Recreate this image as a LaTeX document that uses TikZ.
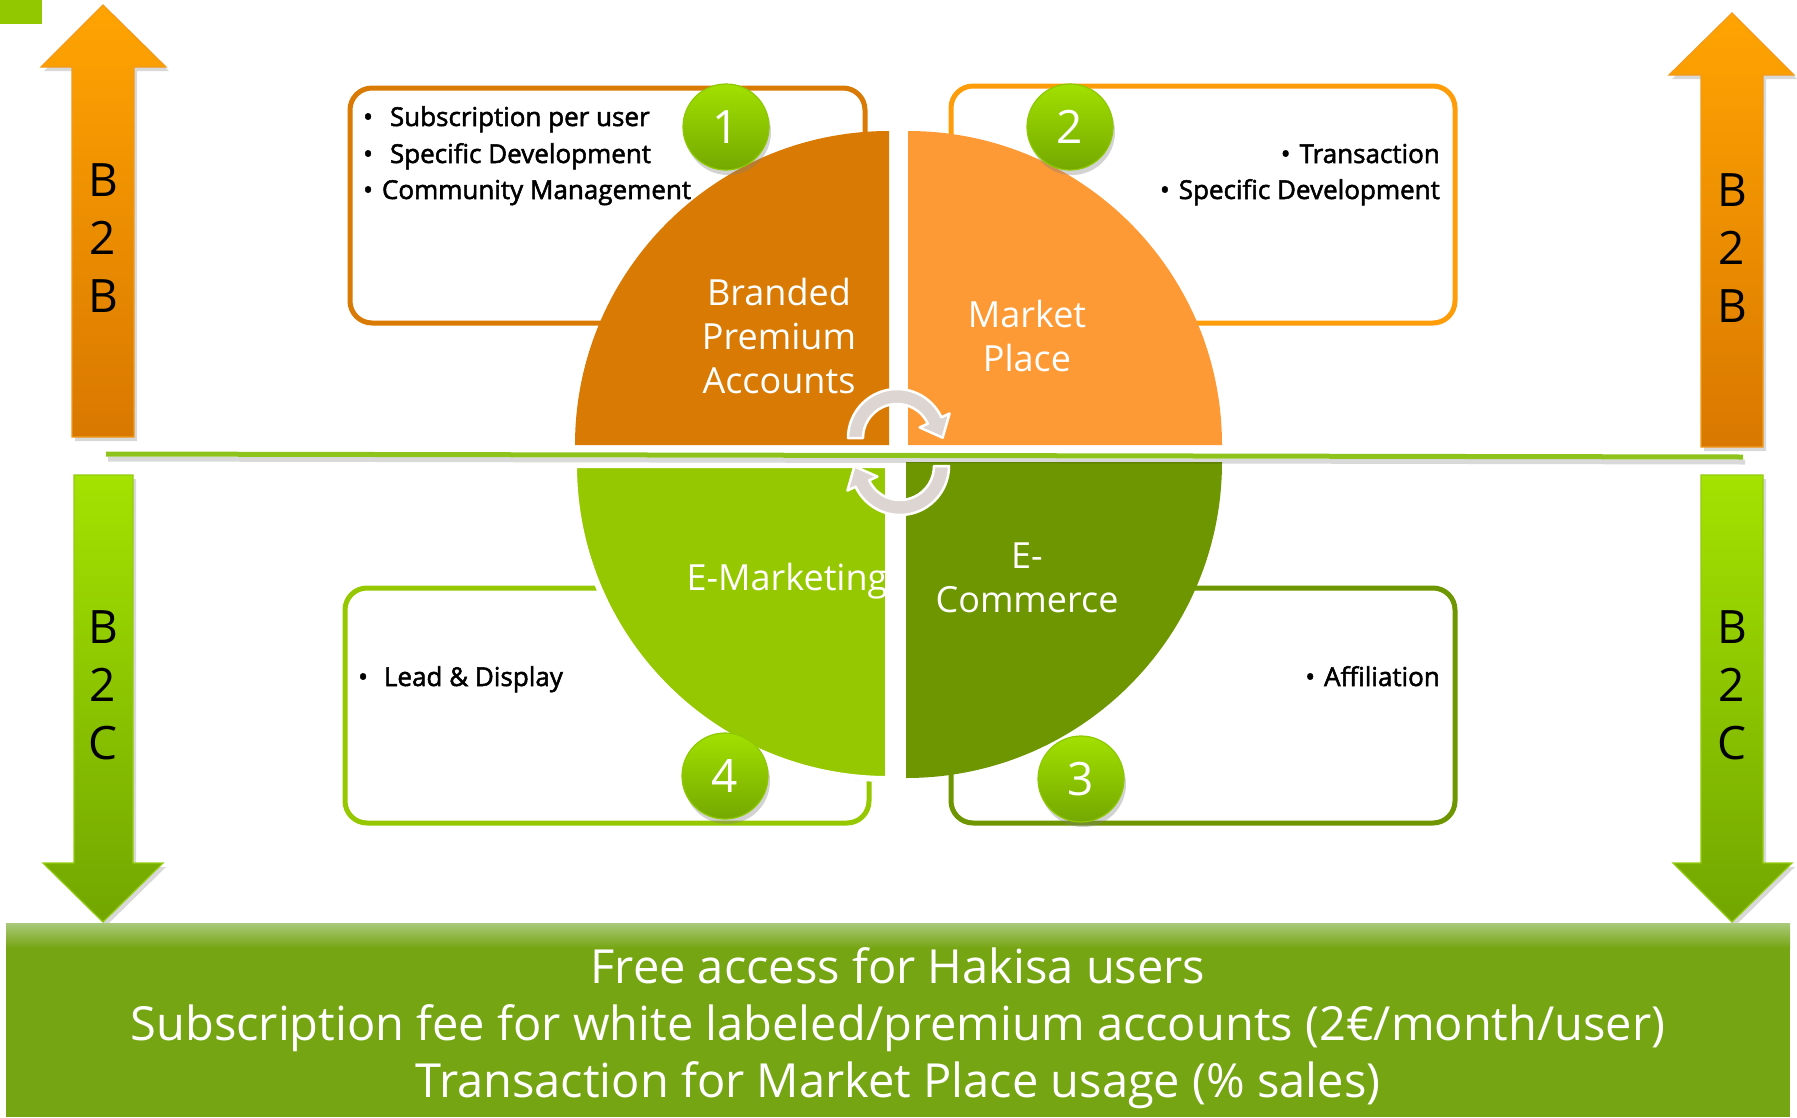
\documentclass[tikz,border=0pt]{standalone}
\usepackage{fontspec}
\setmainfont{Open Sans}
\newfontfamily\semibf{Open Sans}[FakeBold=2]
\usetikzlibrary{shadows,calc}
\definecolor{brandor}{HTML}{D87A03}
\definecolor{mktor}{HTML}{FE9A35}
\definecolor{mktedge}{HTML}{FF9C0A}
\definecolor{emkt}{HTML}{96C800}
\definecolor{ecom}{HTML}{6E9600}
\definecolor{botgreen}{HTML}{76A513}
\definecolor{botlight}{HTML}{A9C97A}
\definecolor{arrOrA}{HTML}{FFA402}
\definecolor{arrOrB}{HTML}{D97800}
\definecolor{arrOrEdge}{HTML}{F29A1C}
\definecolor{arrGrA}{HTML}{A4E200}
\definecolor{arrGrB}{HTML}{72A600}
\definecolor{arrGrEdge}{HTML}{94CC12}
\definecolor{numA}{HTML}{A2E000}
\definecolor{numB}{HTML}{74A800}
\definecolor{numEdge}{HTML}{8DC800}
\definecolor{cycgray}{HTML}{DDD5D2}
\definecolor{lineg}{HTML}{8EC31C}
\definecolor{cornerg}{HTML}{92C800}
\begin{document}
\begin{tikzpicture}[x=1pt,y=-1pt,
  shad/.style={drop shadow={opacity=0.3,shadow xshift=3pt,shadow yshift=-4pt}},
  orarrow/.style={top color=arrOrA,bottom color=arrOrB,draw=arrOrEdge,line width=1.2pt,shad},
  grarrow/.style={top color=arrGrA,bottom color=arrGrB,draw=arrGrEdge,line width=1.2pt,shad},
  sidelbl/.style={font=\fontsize{46}{58}\selectfont,align=center,text=black,inner sep=0pt},
  boxst/.style={rounded corners=22pt,line width=5pt,fill=white},
  bul/.style={font=\semibf\fontsize{26}{30}\selectfont,inner sep=0pt,text=black},
  pietext/.style={font=\fontsize{36}{44}\selectfont,align=center,text=white,inner sep=0pt},
  numc/.style={circle,minimum size=86pt,inner sep=0pt,top color=numA,bottom color=numB,draw=numEdge,line width=1.2pt,text=white,font=\fontsize{46}{50}\selectfont,drop shadow={opacity=0.35,shadow xshift=2pt,shadow yshift=-5pt}},
  cyc/.style={fill=cycgray,draw=white,line width=2.5pt,line join=round},
]
\useasboundingbox (0,0) rectangle (1797,1117);
\fill[white] (0,0) rectangle (1797,1117);
\fill[cornerg] (0,0) rectangle (42,24);

% side arrows
\draw[orarrow] (72,437) -- (72,67) -- (41,67) -- (103,5) -- (166,67) -- (134,67) -- (134,437) -- cycle;
\draw[orarrow] (1701,447) -- (1701,75) -- (1669,75) -- (1732,13) -- (1794,75) -- (1763,75) -- (1763,447) -- cycle;
\draw[grarrow] (74,475) -- (133,475) -- (133,863) -- (163,863) -- (103,922) -- (43,863) -- (74,863) -- cycle;
\draw[grarrow] (1701,475) -- (1763,475) -- (1763,863) -- (1792,863) -- (1732,922) -- (1673,863) -- (1701,863) -- cycle;
\node[sidelbl] (lbb) at (103,238) {B\\2\\B};
\node[sidelbl] (rbb) at (1732,248) {B\\2\\B};
\node[sidelbl] (lbc) at (103,685) {B\\2\\C};
\node[sidelbl] (rbc) at (1732,685) {B\\2\\C};

% boxes
\draw[boxst,draw=brandor] (350,88) rectangle (865,323);
\draw[boxst,draw=mktedge] (951,86) rectangle (1455,323);
\draw[boxst,draw=emkt] (345,588) rectangle (869,823);
\draw[boxst,draw=ecom] (951,588) rectangle (1455,823);

\node[bul,anchor=base west] (t1a) at (363,126) {•\hspace{17pt}Subscription per user};
\node[bul,anchor=base west] (t1b) at (363,163) {•\hspace{17pt}Specific Development};
\node[bul,anchor=base west] (t1c) at (363,199) {•\hspace{9pt}Community Management};
\node[bul,anchor=base east] (t2a) at (1440,163) {•\hspace{9pt}Transaction};
\node[bul,anchor=base east] (t2b) at (1440,199) {•\hspace{9pt}Specific Development};
\node[bul,anchor=base west] (t4a) at (358,686) {•\hspace{16pt}Lead \& Display};
\node[bul,anchor=base east] (t3a) at (1440,686) {•\hspace{9pt}Affiliation};

% pie
\fill[brandor] (889,445) -- (575,445) arc[start angle=180,end angle=270,radius=314] -- cycle;
\fill[mktor] (908,445) -- (908,131) arc[start angle=270,end angle=360,radius=314] -- cycle;
\fill[ecom] (906,462) -- (1222,462) arc[start angle=0,end angle=90,radius=316] -- cycle;
\path[fill=emkt,draw=white,line width=6pt,drop shadow={opacity=0.3,shadow xshift=2pt,shadow yshift=-3pt}] (888,465) -- (888,779) arc[start angle=90,end angle=180,radius=314] -- cycle;

\node[pietext] (pbrand) at (779,336) {Branded\\Premium\\Accounts};
\node[pietext] (pmkt) at (1027,336) {Market\\Place};
\node[pietext] (pecom) at (1027,578) {E-\\Commerce};
\begin{scope}
\clip (888,465) -- (888,779) arc[start angle=90,end angle=180,radius=314] -- cycle;
\node[pietext] (pemkt) at (787,581) {E-Marketing};
\end{scope}

% green divider
\coordinate (gla) at (106,454);
\coordinate (glb) at (1743,457);
\draw[line width=5pt,black,opacity=0.15] ($(gla)+(2,5)$) -- ($(glb)+(2,5)$);
\draw[line width=5pt,lineg] (gla) -- (glb);

% numbers
\node[numc] (n1) at (726,127) {1};
\node[numc] (n2) at (1070,127) {2};
\node[numc] (n3) at (1081,779) {3};
\node[numc] (n4) at (725,776) {4};

% cycle arrows
\coordinate (c1) at (897,438);
\coordinate (c2) at (900,466);
\path[cyc] ($(c1)+(180:49)$) arc[start angle=180,end angle=335,radius=49] -- ($(c1)+(335:58)$) -- ($(c1)+(335:41.5)+(65:19)$) -- ($(c1)+(335:25)$) -- ($(c1)+(335:34)$) arc[start angle=335,end angle=180,radius=34] -- cycle;
\path[cyc] ($(c2)+(0:49)$) arc[start angle=0,end angle=155,radius=49] -- ($(c2)+(155:58)$) -- ($(c2)+(155:41.5)+(245:19)$) -- ($(c2)+(155:25)$) -- ($(c2)+(155:34)$) arc[start angle=155,end angle=0,radius=34] -- cycle;

% bottom banner
\fill[botgreen] (6,923) rectangle (1790,1117);
\shade[top color=botlight,bottom color=botgreen] (6,923) rectangle (1790,948);
\node[font=\fontsize{47}{57}\selectfont,text=white,align=center,inner sep=0pt] (bottxt) at (898,1028) {Free access for Hakisa users\\Subscription fee for white labeled/premium accounts (2€/month/user)\\Transaction for Market Place usage (\% sales)};
\end{tikzpicture}
\end{document}
